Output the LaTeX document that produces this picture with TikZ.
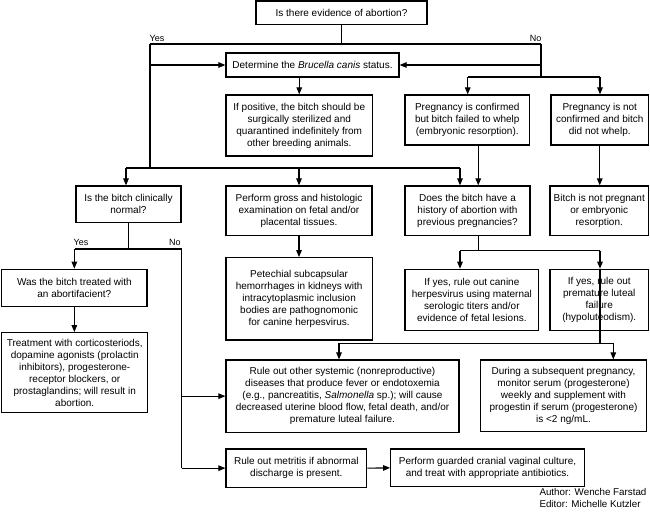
\documentclass[tikz,border=0pt]{standalone}
\usepackage{fontspec}
\setmainfont{Liberation Sans}
\usetikzlibrary{arrows.meta}
\tikzset{
  box/.style={draw, line width=1.2pt, inner sep=0pt, align=center, font=\fontsize{10}{12}\selectfont},
  conn/.style={line width=1.1pt},
  arr/.style={line width=1.1pt, -{Triangle[length=7pt,width=5.5pt]}},
  lbl/.style={inner sep=0pt, font=\fontsize{9}{11}\selectfont}
}
\begin{document}
\begin{tikzpicture}[x=1pt,y=-1pt]
\useasboundingbox (0,0) rectangle (650,517);
\fill[white] (0,0) rectangle (650,517);

% boxes
\node[box, minimum width=171pt, minimum height=23.3pt] (top) at (341.5,12.65) {Is there evidence of abortion?};
\node[box, minimum width=173pt, minimum height=24pt] (brucella) at (312.5,65) {Determine the \textit{Brucella canis} status.};
\node[box, minimum width=146.5pt, minimum height=61pt] (ifpos) at (299.25,125.5) {If positive, the bitch should be\\surgically sterilized and\\quarantined indefinitely from\\other breeding animals.};
\node[box, minimum width=124.5pt, minimum height=50pt] (pregconf) at (467.25,120) {Pregnancy is confirmed\\but bitch failed to whelp\\(embryonic resorption).};
\node[box, minimum width=97.5pt, minimum height=50pt] (pregnot) at (599.75,120) {Pregnancy is not\\confirmed and bitch\\did not whelp.};
\node[box, minimum width=105pt, minimum height=36.7pt] (clin) at (128.5,204.35) {Is the bitch clinically\\normal?};
\node[box, minimum width=146pt, minimum height=49.3pt] (gross) at (299,210.65) {Perform gross and histologic\\examination on fetal and/or\\placental tissues.};
\node[box, minimum width=125pt, minimum height=49.3pt] (history) at (467.5,210.65) {Does the bitch have a\\history of abortion with\\previous pregnancies?};
\node[box, minimum width=98.5pt, minimum height=49.3pt] (notpreg) at (599.25,210.65) {Bitch is not pregnant\\or embryonic\\resorption.};
\node[box, minimum width=145.3pt, minimum height=37.4pt] (abort) at (74.35,288) {Was the bitch treated with\\an abortifacient?};
\node[box, minimum width=146.3pt, minimum height=82.3pt] (petechial) at (299.15,298.85) {Petechial subcapsular\\hemorrhages in kidneys with\\intracytoplasmic inclusion\\bodies are pathognomonic\\for canine herpesvirus.};
\node[box, minimum width=133.7pt, minimum height=61.4pt] (herpes) at (471.85,300) {If yes, rule out canine\\herpesvirus using maternal\\serologic titers and/or\\evidence of fetal lesions.};
\node[box, minimum width=98.5pt, minimum height=61.4pt] (luteal) at (599.25,300) {If yes, rule out\\premature luteal\\failure\\(hypoluteodism).};
\node[box, minimum width=146pt, minimum height=79.6pt] (treat) at (74.7,372.5) {Treatment with corticosteriods,\\dopamine agonists (prolactin\\inhibitors), progesterone-\\receptor blockers, or\\prostaglandins; will result in\\abortion.};
\node[box, minimum width=233pt, minimum height=72.3pt] (ruleout) at (342.5,396.15) {Rule out other systemic (nonreproductive)\\diseases that produce fever or endotoxemia\\(e.g., pancreatitis, \textit{Salmonella} sp.); will cause\\decreased uterine blood flow, fetal death, and/or\\premature luteal failure.};
\node[box, minimum width=166.4pt, minimum height=71.7pt] (during) at (563.5,395.85) {During a subsequent pregnancy,\\monitor serum (progesterone)\\weekly and supplement with\\progestin if serum (progesterone)\\is \textless2 ng/mL.};
\node[box, minimum width=140.7pt, minimum height=38.3pt] (metritis) at (296.35,468.15) {Rule out metritis if abnormal\\discharge is present.};
\node[box, minimum width=193.6pt, minimum height=37.7pt] (culture) at (487.5,467.85) {Perform guarded cranial vaginal culture,\\and treat with appropriate antibiotics.};
\node[inner sep=0pt, anchor=west, align=left, font=\fontsize{9.8}{12.3}\selectfont] (credit) at (539.3,498) {Author: Wenche Farstad\\Editor: Michelle Kutzler};

% labels
\node[lbl] (yes1) at (157,38) {Yes};
\node[lbl] (no1) at (535.7,38) {No};
\node[lbl] (yes2) at (81,242.7) {Yes};
\node[lbl] (no2) at (175,242.7) {No};

% junction coordinates
\coordinate (yesL) at (150,44);
\coordinate (noR) at (541,44);
\coordinate (busL) at (150,168);
\coordinate (bus1) at (126,168);
\coordinate (bus3) at (460,168);
\coordinate (noD) at (541,77);
\coordinate (pc) at (467.7,77);
\coordinate (pn) at (600,77);
\coordinate (cyes) at (75,249);
\coordinate (cno) at (181.7,249);
\coordinate (h1) at (460,250.7);
\coordinate (h2) at (600,250.7);
\coordinate (lj) at (600,343.3);
\coordinate (r1) at (339,343.3);
\coordinate (r2) at (613.3,343.3);

% top split
\draw[conn] (top.south) -- (top.south |- yesL);
\draw[conn] (yesL) -- (noR);
\draw[conn] (yesL) -- (busL);
\draw[arr] (yesL |- brucella.west) -- (brucella.west);
\draw[conn] (noR) -- (noD);
\draw[arr] (noR |- brucella.east) -- (brucella.east);
\draw[conn] (pc) -- (pn);
\draw[arr] (pc) -- (pc |- pregconf.north);
\draw[arr] (pn) -- (pn |- pregnot.north);
\draw[arr] (ifpos.north |- brucella.south) -- (ifpos.north);

% yes bus
\draw[conn] (bus1) -- (bus3);
\draw[arr] (bus1) -- (bus1 |- clin.north);
\draw[arr] (gross.north |- bus1) -- (gross.north);
\draw[arr] (bus3) -- (bus3 |- history.north);

% no side
\draw[arr] ([xshift=11pt]pregconf.south) -- ([xshift=11pt]pregconf.south |- history.north);
\draw[arr] (pregnot.south) -- (pregnot.south |- notpreg.north);

% clinically normal
\draw[conn] (clin.south) -- (clin.south |- cyes);
\draw[conn] (cyes) -- (cno);
\draw[arr] (abort.north |- cyes) -- (abort.north);
\draw[arr] (abort.south) -- (abort.south |- treat.north);
\draw[conn] (cno) -- (cno |- metritis.west);
\draw[arr] (cno |- ruleout.west) -- (ruleout.west);
\draw[arr] (cno |- metritis.west) -- (metritis.west);
\draw[arr] (metritis.east) -- (culture.west);

% gross
\draw[arr] (gross.south) -- (gross.south |- petechial.north);

% history
\draw[conn] ([xshift=10.8pt]history.south) -- ([xshift=10.8pt]history.south |- h1);
\draw[conn] (h1) -- (h2);
\draw[arr] (h1) -- (h1 |- herpes.north);
\draw[arr] (h2) -- (h2 |- luteal.north);

% luteal
\draw[conn] (h2 |- luteal.north) -- (lj);
\draw[conn] (r1) -- (r2);
\draw[arr] (r1) -- (r1 |- ruleout.north);
\draw[arr] (r2) -- (r2 |- during.north);
\end{tikzpicture}
\end{document}
